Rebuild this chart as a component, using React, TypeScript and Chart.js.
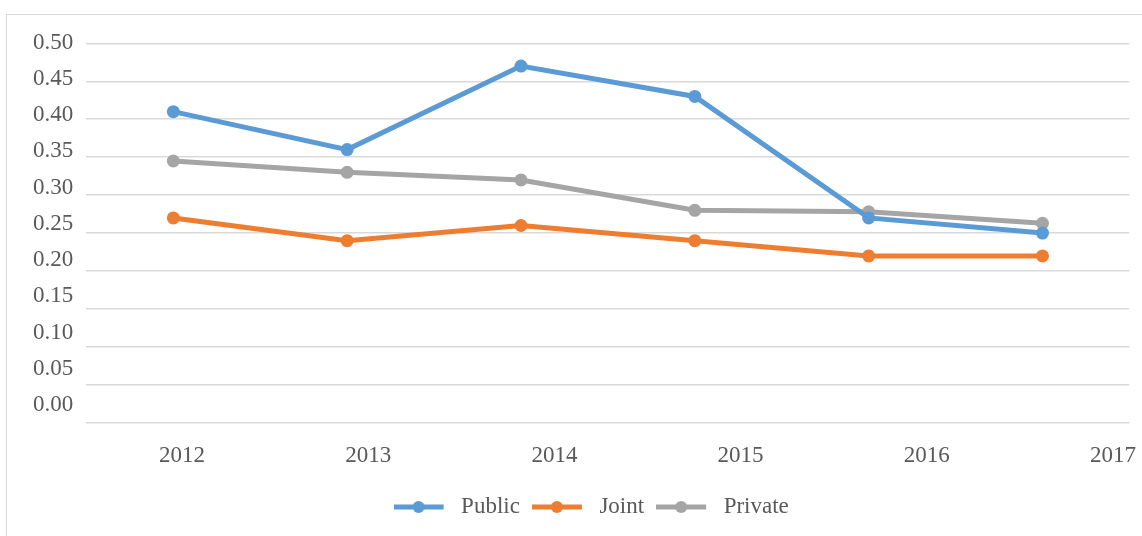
import React, { useEffect, useRef } from "react";
import { Chart, registerables } from "chart.js";

Chart.register(...registerables);

const CATEGORIES = ["2012", "2013", "2014", "2015", "2016", "2017"];
const PUBLIC = [0.41, 0.36, 0.47, 0.43, 0.27, 0.25];
const JOINT = [0.27, 0.24, 0.26, 0.24, 0.22, 0.22];
const PRIVATE = [0.345, 0.33, 0.32, 0.28, 0.278, 0.263];
const Y_TICK_LABELS = [0, 0.05, 0.1, 0.15, 0.2, 0.25, 0.3, 0.35, 0.4, 0.45, 0.5];
const X_TICK_LABELS = [2012, 2013, 2014, 2015, 2016, 2017];

const SERIES_NAMES = ["Public", "Joint", "Private"];
const COLORS = ["#5B9BD5", "#ED7D31", "#A5A5A5"];

const FONT = "'Liberation Serif', 'Times New Roman', serif";
const TEXT = "#595959";
const GRID = "#D9D9D9";

function makeIcon(color: string): HTMLCanvasElement {
  const c = document.createElement("canvas");
  c.width = 56;
  c.height = 14;
  const ctx = c.getContext("2d")!;
  ctx.strokeStyle = color;
  ctx.lineWidth = 5;
  ctx.beginPath();
  ctx.moveTo(0, 7);
  ctx.lineTo(50, 7);
  ctx.stroke();
  ctx.fillStyle = color;
  ctx.beginPath();
  ctx.arc(25, 7, 6, 0, Math.PI * 2);
  ctx.fill();
  return c;
}

export default function App() {
  const ref = useRef<HTMLCanvasElement | null>(null);

  useEffect(() => {
    if (!ref.current) return;
    const icons = COLORS.map(makeIcon);
    const seriesData = [PUBLIC, JOINT, PRIVATE];
    const chart = new Chart(ref.current, {
      type: "line",
      data: {
        labels: CATEGORIES,
        datasets: SERIES_NAMES.map((name, i) => ({
          label: name,
          data: seriesData[i],
          borderColor: COLORS[i],
          backgroundColor: COLORS[i],
          pointBackgroundColor: COLORS[i],
          pointBorderColor: COLORS[i],
          borderWidth: 5,
          pointRadius: 6.5,
          pointBorderWidth: 0,
          tension: 0,
          xAxisID: "x",
          yAxisID: "y",
        })),
      },
      options: {
        responsive: false,
        animation: false,
        devicePixelRatio: 1,
        layout: { padding: { top: 43.3, left: 53, right: 12.6, bottom: 7.5 } },
        scales: {
          x: {
            type: "category",
            display: false,
            offset: true,
          },
          xl: {
            type: "linear",
            position: "bottom",
            min: 2011.4866,
            max: 2017.0881,
            bounds: "data",
            grid: { display: false, drawTicks: false },
            border: { display: false },
            afterBuildTicks: (s: any) => {
              s.ticks = X_TICK_LABELS.map((v) => ({ value: v }));
            },
            afterFit: (s: any) => {
              s.height = 60.6;
            },
            ticks: {
              padding: 0,
              color: TEXT,
              font: { family: FONT, size: 23, lineHeight: 2.843 },
              maxRotation: 0,
              autoSkip: false,
              callback: (v: any) => String(v),
            },
          },
          y: {
            type: "linear",
            position: "left",
            min: 0,
            max: 0.5,
            grid: { color: GRID, lineWidth: 1.5, drawTicks: false },
            border: { display: false },
            ticks: { display: false, stepSize: 0.05 },
            afterFit: (s: any) => {
              s.width = 0;
            },
          },
          yl: {
            type: "linear",
            position: "left",
            min: -0.0243,
            max: 0.4989,
            bounds: "data",
            grid: { display: false, drawTicks: false },
            border: { display: false },
            afterBuildTicks: (s: any) => {
              s.ticks = Y_TICK_LABELS.map((v) => ({ value: v }));
            },
            afterFit: (s: any) => {
              s.width = 33.4;
            },
            ticks: {
              mirror: true,
              crossAlign: "near",
              padding: -53.4,
              color: TEXT,
              font: { family: FONT, size: 23 },
              autoSkip: false,
              callback: (v: any) => Number(v).toFixed(2),
            },
          },
        },
        plugins: {
          tooltip: { enabled: false },
          legend: {
            position: "bottom",
            labels: {
              usePointStyle: true,
              pointStyleWidth: 56,
              boxHeight: 14,
              padding: 12,
              color: TEXT,
              font: { family: FONT, size: 23 },
              generateLabels: (c: any) =>
                Chart.defaults.plugins.legend.labels
                  .generateLabels(c)
                  .map((l: any, i: number) => ({ ...l, pointStyle: icons[i] })),
            },
          },
        },
      } as any,
    });
    return () => chart.destroy();
  }, []);

  return (
    <div
      style={{
        position: "fixed",
        left: 0,
        top: 0,
        width: 1142,
        height: 536,
        overflow: "hidden",
        background: "#ffffff",
      }}
    >
      <div
        style={{
          position: "absolute",
          left: 6,
          top: 14,
          width: 1200,
          height: 600,
          border: "1px solid #D9D9D9",
        }}
      />
      <canvas
        ref={ref}
        width={1142}
        height={536}
        style={{ position: "absolute", left: 0, top: 0, width: 1142, height: 536 }}
      />
    </div>
  );
}
